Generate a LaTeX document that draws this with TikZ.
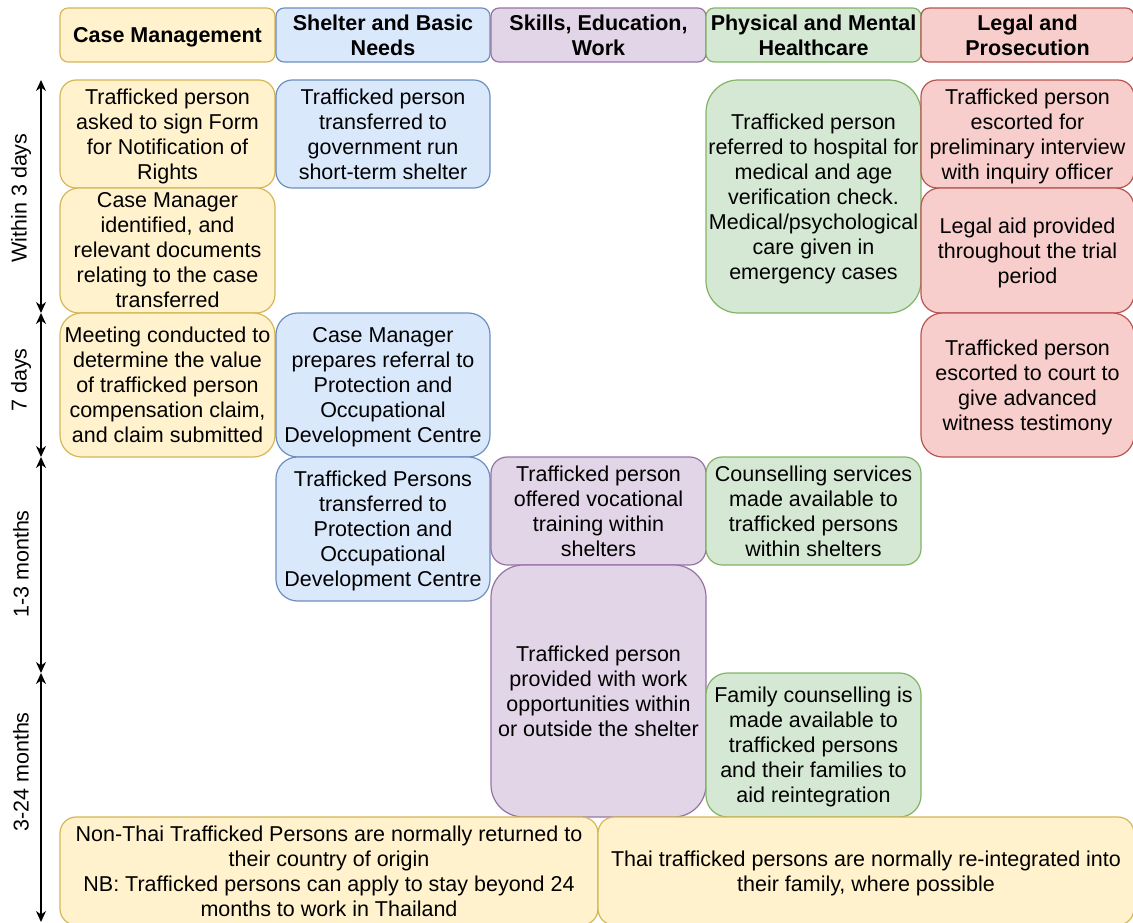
\documentclass[tikz,border=0pt]{standalone}
\usepackage{fontspec}
\setmainfont{Liberation Sans}
\usetikzlibrary{arrows.meta}
\definecolor{yfill}{HTML}{FFF2CC}\definecolor{ydraw}{HTML}{D6B656}
\definecolor{bfill}{HTML}{DAE8FC}\definecolor{bdraw}{HTML}{6C8EBF}
\definecolor{pfill}{HTML}{E1D5E7}\definecolor{pdraw}{HTML}{9673A6}
\definecolor{gfill}{HTML}{D5E8D4}\definecolor{gdraw}{HTML}{82B366}
\definecolor{rfill}{HTML}{F8CECC}\definecolor{rdraw}{HTML}{B85450}
\tikzset{
  box/.style={line width=1.2pt, inner sep=0pt},
  yel/.style={box, fill=yfill, draw=ydraw},
  blu/.style={box, fill=bfill, draw=bdraw},
  pur/.style={box, fill=pfill, draw=pdraw},
  gre/.style={box, fill=gfill, draw=gdraw},
  red/.style={box, fill=rfill, draw=rdraw},
  txt/.style={inner sep=0pt, align=center, text depth=4.5pt, font=\fontsize{21.5}{25}\selectfont},
  hdr/.style={txt, font=\fontsize{21.5}{25}\selectfont\bfseries},
  timeline/.style={line width=1.3pt, {Stealth[length=11pt,width=10pt]}-{Stealth[length=11pt,width=10pt]}},
  tlabel/.style={rotate=90, font=\fontsize{21.5}{25}\selectfont, inner sep=0pt}
}
% #1 name, #2-#5 corners (x1,y1,x2,y2), #6 box style, #7 text style, #8 text
\newcommand\bx[8]{\node[#6, minimum width={#4-#2}, minimum height={#5-#3},
  rounded corners={0.15*min(#4-#2,#5-#3)}] (#1) at ({(#2+#4)/2},{(#3+#5)/2}) {};
  \node[#7] (#1-t) at ([yshift=-2pt]#1.center) {#8};}
\begin{document}
\begin{tikzpicture}[x=1pt,y=-1pt]
\useasboundingbox (0,0) rectangle (1133,923);
% headers
\bx{h1}{60}{8}{275}{62}{yel}{hdr}{Case Management}
\bx{h2}{276}{8}{490}{62}{blu}{hdr}{Shelter and Basic\\Needs}
\bx{h3}{491}{8}{706}{62}{pur}{hdr}{Skills, Education,\\Work}
\bx{h4}{706}{8}{921}{62}{gre}{hdr}{Physical and Mental\\Healthcare}
\bx{h5}{921}{8}{1134}{62}{red}{hdr}{Legal and\\Prosecution}
% case management
\bx{a1}{60}{80}{275}{188}{yel}{txt}{Trafficked person\\asked to sign Form\\for Notification of\\Rights}
\bx{a2}{60}{188}{275}{313}{yel}{txt}{Case Manager\\identified, and\\relevant documents\\relating to the case\\transferred}
\bx{a3}{60}{313}{275}{457}{yel}{txt}{Meeting conducted to\\determine the value\\of trafficked person\\compensation claim,\\and claim submitted}
% shelter
\bx{b1}{276}{80}{490}{188}{blu}{txt}{Trafficked person\\transferred to\\government run\\short-term shelter}
\bx{b2}{276}{313}{490}{457}{blu}{txt}{Case Manager\\prepares referral to\\Protection and\\Occupational\\Development Centre}
\bx{b3}{276}{457}{490}{601}{blu}{txt}{Trafficked Persons\\transferred to\\Protection and\\Occupational\\Development Centre}
% skills
\bx{c1}{491}{457}{706}{565}{pur}{txt}{Trafficked person\\offered vocational\\training within\\shelters}
\bx{c2}{491}{565}{706}{817}{pur}{txt}{Trafficked person\\provided with work\\opportunities within\\or outside the shelter}
% health
\bx{d1}{706}{80}{921}{313}{gre}{txt}{Trafficked person\\referred to hospital for\\medical and age\\verification check.\\Medical/psychological\\care given in\\emergency cases}
\bx{d2}{706}{457}{921}{565}{gre}{txt}{Counselling services\\made available to\\trafficked persons\\within shelters}
\bx{d3}{706}{673}{921}{817}{gre}{txt}{Family counselling is\\made available to\\trafficked persons\\and their families to\\aid reintegration}
% legal
\bx{e1}{921}{80}{1134}{188}{red}{txt}{Trafficked person\\escorted for\\preliminary interview\\with inquiry officer}
\bx{e2}{921}{188}{1134}{313}{red}{txt}{Legal aid provided\\throughout the trial\\period}
\bx{e3}{921}{313}{1134}{457}{red}{txt}{Trafficked person\\escorted to court to\\give advanced\\witness testimony}
% bottom
\bx{f1}{60}{817}{598}{925}{yel}{txt}{Non-Thai Trafficked Persons are normally returned to\\their country of origin\\NB: Trafficked persons can apply to stay beyond 24\\months to work in Thailand}
\bx{f2}{598}{817}{1134}{925}{yel}{txt}{Thai trafficked persons are normally re-integrated into\\their family, where possible}
% timeline
\coordinate (t0) at (41,80);
\coordinate (t1) at (41,313);
\coordinate (t2) at (41,457);
\coordinate (t3) at (41,673);
\coordinate (t4) at (41,922);
\draw[timeline] (t0) -- (t1);
\draw[timeline] (t1) -- (t2);
\draw[timeline] (t2) -- (t3);
\draw[timeline] (t3) -- (t4);
\node[tlabel] (l1) at (21,198) {Within 3 days};
\node[tlabel] (l2) at (21,380) {7 days};
\node[tlabel] (l3) at (21,564) {1-3 months};
\node[tlabel] (l4) at (21,772) {3-24 months};
\end{tikzpicture}
\end{document}
